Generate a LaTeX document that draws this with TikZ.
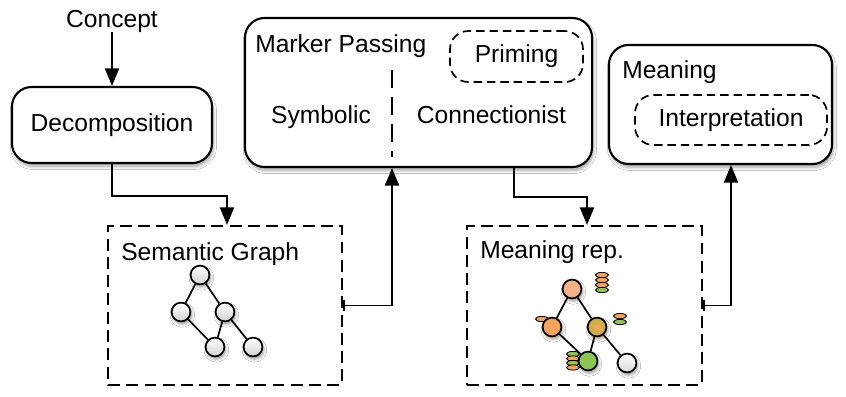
\documentclass[tikz,border=0pt]{standalone}
\usepackage{fontspec}
\setmainfont{Liberation Sans}
\usetikzlibrary{arrows.meta}
\usetikzlibrary{shapes.geometric}
\usetikzlibrary{shadows.blur}

\definecolor{peach}{HTML}{F2B285}
\definecolor{orng}{HTML}{F7A35C}
\definecolor{olivey}{HTML}{BDB23C}
\definecolor{leaf}{HTML}{8DC653}

\tikzset{
  softshadow/.style={blur shadow={shadow xshift=1pt, shadow yshift=-2.5pt, shadow blur steps=6, shadow opacity=35}},
  box/.style={draw, line width=1.5pt, rounded corners=14pt, fill=white, softshadow},
  dashbox/.style={draw, line width=1.5pt, dash pattern=on 8.5pt off 4.5pt},
  pill/.style={draw, line width=1.2pt, dash pattern=on 6pt off 3.5pt, rounded corners=13pt},
  lbl/.style={inner sep=0pt, anchor=base west},
  conn/.style={line width=1.3pt, -{Triangle[length=12.5pt,width=10pt]}},
  barconn/.style={line width=1.3pt, {Bar[width=8pt]}-{Triangle[length=12.5pt,width=10pt]}},
  divider/.style={line width=1.1pt, dash pattern=on 12.8pt off 6.4pt},
  gnode/.style={circle, draw, line width=1.2pt, minimum size=0.47cm, inner sep=0pt,
    blur shadow={shadow xshift=1pt, shadow yshift=-2pt, shadow blur steps=4, shadow opacity=40}},
  gedge/.style={line width=1.2pt},
  marker/.style={ellipse, draw, line width=0.6pt, minimum width=0.33cm, minimum height=0.13cm, inner sep=0pt}
}

\begin{document}
\begin{tikzpicture}[x=0.025cm, y=-0.025cm, font=\fontsize{17.5}{21}\selectfont]
        \useasboundingbox[fill=white] (0,0) rectangle (846,396);

        % boxes
        \node[lbl, anchor=base] (concept) at (112,27) {Concept};
        \node[box, minimum width=5cm, minimum height=1.9cm] (decomp) at (112,125) {Decomposition};
        \node[box, minimum width=8.675cm, minimum height=3.725cm] (mpass) at (418.5,92.5) {};
        \node[lbl] (mplabel) at (255,52) {Marker Passing};
        \node[pill, minimum width=3.325cm, minimum height=1.275cm] (priming) at (516.5,56.5) {Priming};
        \node[lbl, anchor=base] (symbolic) at (321,123) {Symbolic};
        \node[lbl, anchor=base] (connect) at (491.5,123) {Connectionist};
        \coordinate (divtop) at (392,70);
        \coordinate (divbot) at (392,157);
        \draw[divider] (divtop) -- (divbot);
        \node[box, minimum width=5.575cm, minimum height=2.975cm] (meaning) at (720.5,104.5) {};
        \node[lbl] (meanlabel) at (622,78) {Meaning};
        \node[pill, minimum width=4.8cm, minimum height=1.25cm] (interp) at (731,120) {Interpretation};
        \node[dashbox, minimum width=5.85cm, minimum height=3.975cm] (semgraph) at (225,305.5) {};
        \node[lbl] (semlabel) at (121,260) {Semantic Graph};
        \node[dashbox, minimum width=5.875cm, minimum height=3.975cm] (meanrep) at (584.5,305.5) {};
        \node[lbl] (replabel) at (480,258) {Meaning rep.};

        % connectors
        \draw[conn] (concept.south) -- (decomp.north);
        \coordinate (dj) at (227,196);
        \draw[conn] (decomp.south) |- (dj) -- (dj |- semgraph.north);
        \coordinate (sj) at (392,0);
        \draw[barconn] (semgraph.east) -| (sj |- mpass.south);
        \coordinate (mj) at (514,197);
        \coordinate (mk) at (587,197);
        \draw[conn] (mj |- mpass.south) -- (mj) -- (mk) -- (mk |- meanrep.north);
        \coordinate (rj) at (731,0);
        \draw[barconn] (meanrep.east) -| (rj |- meaning.south);

        % semantic graph
        \node[gnode, top color=white, bottom color=gray!35] (s1) at (200,275) {};
        \node[gnode, top color=white, bottom color=gray!35] (s2) at (181,312) {};
        \node[gnode, top color=white, bottom color=gray!35] (s3) at (225,312) {};
        \node[gnode, top color=white, bottom color=gray!35] (s4) at (215,347) {};
        \node[gnode, top color=white, bottom color=gray!35] (s5) at (253,347) {};
        \draw[gedge] (s1) -- (s2);
        \draw[gedge] (s1) -- (s3);
        \draw[gedge] (s2) -- (s4);
        \draw[gedge] (s3) -- (s4);
        \draw[gedge] (s3) -- (s5);

        % meaning rep. markers
        \node[marker, fill=orng] (ma1) at (602,275) {};
        \node[marker, fill=orng] (ma2) at (602,280) {};
        \node[marker, fill=orng] (ma3) at (602,285) {};
        \node[marker, fill=leaf] (ma4) at (602,290) {};
        \node[marker, fill=orng] (mb1) at (542,319) {};
        \node[marker, fill=orng] (mc1) at (620,316) {};
        \node[marker, fill=leaf] (mc2) at (620,322) {};
        \node[marker, fill=leaf] (md1) at (573,354) {};
        \node[marker, fill=orng] (md2) at (573,358.5) {};
        \node[marker, fill=leaf] (md3) at (573,363) {};
        \node[marker, fill=orng] (md4) at (573,367.5) {};

        % meaning rep. graph
        \node[gnode, fill=peach] (r1) at (572,289) {};
        \node[gnode, fill=orng] (r2) at (552,327) {};
        \node[gnode, inner color=orng, outer color=olivey] (r3) at (597,327) {};
        \node[gnode, fill=leaf] (r4) at (588,361) {};
        \node[gnode, top color=white, bottom color=gray!30] (r5) at (627,363) {};
        \draw[gedge] (r1) -- (r2);
        \draw[gedge] (r1) -- (r3);
        \draw[gedge] (r2) -- (r4);
        \draw[gedge] (r3) -- (r4);
        \draw[gedge] (r3) -- (r5);
    \end{tikzpicture}
\end{document}
